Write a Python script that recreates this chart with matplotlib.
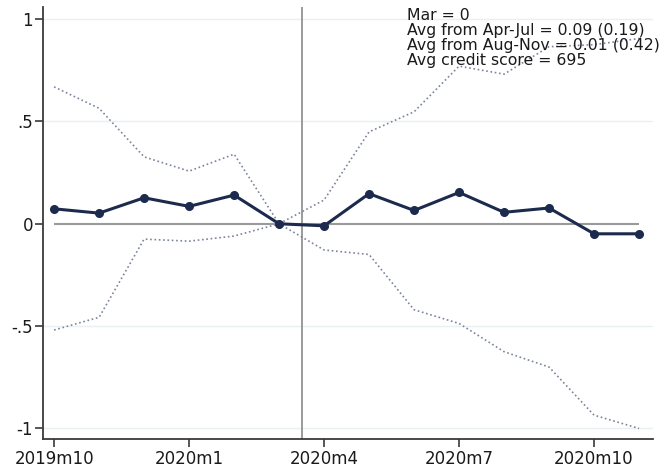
import matplotlib
matplotlib.use("Agg")
import matplotlib.pyplot as plt
import numpy as np

months = ["2019m10", "2019m11", "2019m12", "2020m1", "2020m2", "2020m3", "2020m4",
          "2020m5", "2020m6", "2020m7", "2020m8", "2020m9", "2020m10", "2020m11"]
coef = [0.073, 0.052, 0.127, 0.085, 0.140, 0.0, -0.010,
        0.147, 0.065, 0.153, 0.056, 0.077, -0.049, -0.049]
upper = [0.669, 0.564, 0.327, 0.257, 0.340, 0.0, 0.116,
         0.449, 0.547, 0.770, 0.731, 0.865, 0.875, 0.905]
lower = [-0.519, -0.457, -0.075, -0.085, -0.060, 0.0, -0.128,
         -0.150, -0.420, -0.487, -0.625, -0.700, -0.935, -1.000]
xtick_idx = [0, 3, 6, 9, 12]
yticks = [-1, -0.5, 0, 0.5, 1]
ytick_labels = ["-1", "-.5", "0", ".5", "1"]
notes = ["Mar = 0", "Avg from Apr-Jul = 0.09 (0.19)",
         "Avg from Aug-Nov = 0.01 (0.42)", "Avg credit score = 695"]
event_x = 5.5

x = np.arange(len(months))

fig = plt.figure(figsize=(6.6, 4.67), dpi=100)
ax = fig.add_axes([0.0656, 0.0593, 0.9238, 0.9257])

for yv in yticks:
    if yv != 0:
        ax.axhline(yv, color="#e8f0f2", lw=1.0, zorder=0)

ax.hlines(0, x[0], x[-1], color="#9a9a9a", lw=1.5, zorder=1)
ax.axvline(event_x, color="#8a8a8a", lw=1.2, zorder=1)

ax.plot(x, upper, color="#7c859c", lw=1.2, ls=(0, (1, 1.6)), zorder=2)
ax.plot(x, lower, color="#7c859c", lw=1.2, ls=(0, (1, 1.6)), zorder=2)
ax.plot(x, coef, color="#1c2b4d", lw=2.2, marker="o", ms=5.5, zorder=3)

ax.set_xlim(-0.24, 13.31)
ax.set_ylim(-1.053, 1.059)
ax.set_xticks(xtick_idx)
ax.set_xticklabels([months[i] for i in xtick_idx])
ax.set_yticks(yticks)
ax.set_yticklabels(ytick_labels)

for s in ["top", "right"]:
    ax.spines[s].set_visible(False)
for s in ["left", "bottom"]:
    ax.spines[s].set_color("#3a3a3a")
    ax.spines[s].set_linewidth(1.3)

ax.tick_params(axis="both", colors="#3a3a3a", length=5.5, width=1.2,
               labelsize=12, labelcolor="#1a1a1a", pad=2)

ax.text(0.5965, 0.998, "\n".join(notes), transform=ax.transAxes,
        ha="left", va="top", fontsize=11.3, color="#1a1a1a", linespacing=1.0)

fig.savefig("out.png", dpi=100)
